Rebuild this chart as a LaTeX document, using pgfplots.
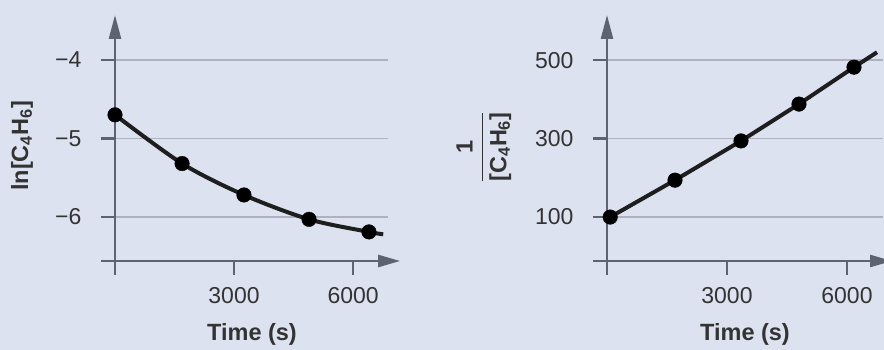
\documentclass[border=0pt]{standalone}
\usepackage{fontspec}
\setmainfont{Liberation Sans}
\usepackage{pgfplots}
\pgfplotsset{compat=1.18}
\usetikzlibrary{arrows.meta}
\definecolor{bg}{HTML}{DDE2F0}
\definecolor{axc}{HTML}{5F6370}
\definecolor{gridc}{HTML}{AEB2BD}
\definecolor{txt}{HTML}{333333}
\definecolor{dat}{HTML}{1E1E1E}
\begin{document}
\begin{tikzpicture}
\fill[bg] (0pt,0pt) rectangle (884pt,350pt);
\pgfplotsset{
  every axis/.append style={
    scale only axis, clip=false,
    axis x line=bottom, axis y line=left,
    axis line style={axc, line width=2.5pt},
    x axis line style={-},
    y axis line style={-{Triangle[length=24pt,width=12pt]}},
    tick align=outside, major tick length=14pt,
    tick style={axc, line width=2.5pt},
    ymajorgrids, major grid style={gridc, line width=1.5pt},
    ticklabel style={font=\fontsize{23}{23}\selectfont, text=txt},
    yticklabel style={xshift=-16pt},
    xticklabel style={yshift=-9pt},
  }
}
% left
\begin{axis}[at={(115pt,89pt)}, anchor=south west, width=273pt, height=246pt,
  xmin=0, xmax=6880, ymin=-6.56, ymax=-3.43,
  xtick={0,3000,6000}, xticklabels={,3000,6000},
  ytick={-6.56,-6,-5,-4}, yticklabels={,−6,−5,−4}]
\draw[axc, line width=2.5pt, -{Triangle[length=22pt,width=12pt]}] (axis cs:6870,-6.56) -- (axis cs:7185,-6.56);
\addplot[dat, line width=4pt, smooth, no markers] coordinates {
(0,-4.70) (1690,-5.32) (3250,-5.72) (4890,-6.03) (6400,-6.19) (6760,-6.22)};
\addplot[only marks, mark=*, mark size=7.3pt, mark options={fill=black, draw=black}] coordinates {
(0,-4.70) (1690,-5.32) (3250,-5.72) (4890,-6.03) (6400,-6.19)};
\end{axis}
% right
\begin{axis}[at={(607pt,89pt)}, anchor=south west, width=276pt, height=246pt,
  xmin=0, xmax=6900, ymin=-12, ymax=615,
  xtick={0,3000,6000}, xticklabels={,3000,6000},
  ytick={-12,100,300,500}, yticklabels={,100,300,500}]
\draw[axc, line width=2.5pt, -{Triangle[length=22pt,width=12pt]}] (axis cs:6890,-12) -- (axis cs:7125,-12);
\addplot[dat, line width=4pt, no markers] coordinates {
(80,100) (1700,194) (3350,294) (4800,388) (6175,482) (6750,520)};
\addplot[only marks, mark=*, mark size=7.3pt, mark options={fill=black, draw=black}] coordinates {
(80,100) (1700,194) (3350,294) (4800,388) (6175,482)};
\end{axis}
\begin{scope}[every node/.style={font=\fontsize{23.5}{27}\selectfont\bfseries, text=txt}]
\node at (252pt,16pt) {Time (s)};
\node at (745pt,16pt) {Time (s)};
\node[rotate=90] at (22pt,204pt) {ln[C\textsubscript{4}H\textsubscript{6}]};
\setlength{\arrayrulewidth}{1.6pt}
\node[rotate=90] at (484pt,203pt) {\begin{tabular}{@{}c@{}}1\\[1pt]\hline\rule{0pt}{23pt}[C\textsubscript{4}H\textsubscript{6}]\end{tabular}};
\end{scope}
\pgfresetboundingbox
\useasboundingbox (0pt,0pt) rectangle (884pt,350pt);
\end{tikzpicture}
\end{document}
